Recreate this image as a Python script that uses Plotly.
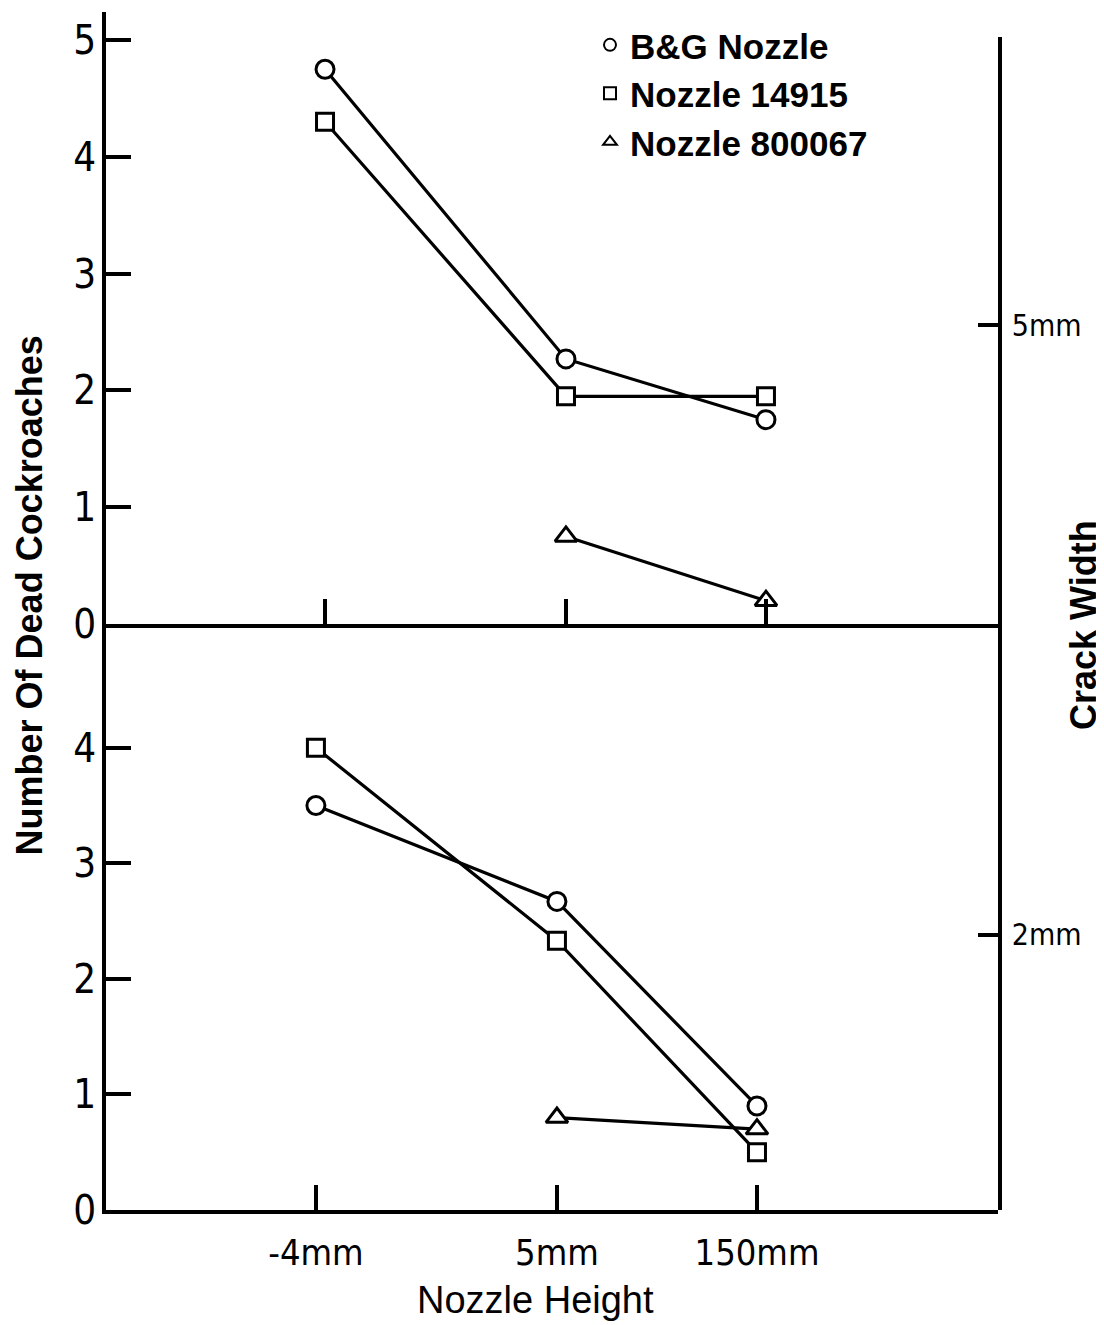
import plotly.graph_objects as go

# ---------------- data ----------------
nozzle_heights = ["-4mm", "5mm", "150mm"]
series_names = ["B&G Nozzle", "Nozzle 14915", "Nozzle 800067"]

# upper panel (crack width 5 mm)
top_bg = [4.75, 2.27, 1.75]
top_14915 = [4.3, 1.95, 1.95]
top_800067 = [None, 0.75, 0.2]

# lower panel (crack width 2 mm)
bottom_bg = [3.5, 2.67, 0.9]
bottom_14915 = [4.0, 2.33, 0.5]
bottom_800067 = [None, 0.8, 0.7]

top_y_ticks = [0, 1, 2, 3, 4, 5]
bottom_y_ticks = [0, 1, 2, 3, 4]
crack_widths = ["5mm", "2mm"]

# ---------------- layout helpers ----------------
category_positions = [0.0, 1.0, 1.83]   # uneven spacing of the hand-drawn axis
crack_tick_positions = [0.7545, 0.2345]  # where the crack-width ticks sit on the right axis

symbols = ["circle", "square", "triangle-up"]
sizes = [18, 17, 19]

TICK_FONT = "DejaVu Sans Condensed, Liberation Sans Narrow, Liberation Sans, sans-serif"
TEXT_FONT = "Liberation Sans, Arial, sans-serif"
LW = 3.5

fig = go.Figure()

def add_series(values, sym, size, name, xa, ya):
    fig.add_trace(go.Scatter(
        x=category_positions, y=values, mode="lines+markers", name=name,
        xaxis=xa, yaxis=ya, showlegend=False,
        line=dict(color="black", width=3.2),
        marker=dict(symbol=sym, size=size, color="white",
                    line=dict(color="black", width=3)),
    ))

for vals, sym, size, name in zip([bottom_bg, bottom_14915, bottom_800067], symbols, sizes, series_names):
    add_series(vals, sym, size, name, "x", "y")
for vals, sym, size, name in zip([top_bg, top_14915, top_800067], symbols, sizes, series_names):
    add_series(vals, sym, size, name, "x2", "y2")

# legend entries (symbols only)
for name, sym in zip(series_names, symbols):
    fig.add_trace(go.Scatter(
        x=[None], y=[None], mode="markers", name=name, xaxis="x2", yaxis="y2",
        marker=dict(symbol=sym, size=14, color="white", line=dict(color="black", width=3)),
        showlegend=True,
    ))

# carrier for right-hand crack width axis
fig.add_trace(go.Scatter(x=[None], y=[None], xaxis="x", yaxis="y3",
                         showlegend=False, hoverinfo="skip", mode="markers"))

common_axis = dict(showline=True, linecolor="black", linewidth=LW, showgrid=False,
                   zeroline=False, ticks="inside", tickcolor="black", tickwidth=LW,
                   ticklen=25)

fig.update_layout(
    width=1096, height=1317, autosize=False,
    margin=dict(l=98, r=106, t=4, b=115),
    paper_bgcolor="white", plot_bgcolor="rgba(0,0,0,0)",
    xaxis=dict(domain=[0, 1], range=[-0.871, 2.830], anchor="y",
               tickmode="array", tickvals=category_positions, ticktext=nozzle_heights,
               tickfont=dict(family=TICK_FONT, size=36, color="black"),
               ticklabelstandoff=8, **common_axis),
    xaxis2=dict(domain=[0, 1], range=[-0.909, 2.793], anchor="y2",
                tickmode="array", tickvals=category_positions, showticklabels=False,
                **common_axis),
    yaxis=dict(domain=[0, 0.4891], range=[0, 5.07], anchor="x",
               tickmode="array", tickvals=bottom_y_ticks,
               tickfont=dict(family=TICK_FONT, size=40, color="black"),
               ticklabelstandoff=-2, **common_axis),
    yaxis2=dict(domain=[0.4891, 1], range=[0, 5.24], anchor="x2",
                tickmode="array", tickvals=top_y_ticks,
                tickfont=dict(family=TICK_FONT, size=40, color="black"),
                ticklabelstandoff=-2, **common_axis),
    yaxis3=dict(domain=[0, 0.979], range=[0, 1], anchor="x", side="right",
                tickmode="array", tickvals=crack_tick_positions, ticktext=crack_widths,
                tickfont=dict(family=TICK_FONT, size=30, color="black"),
                showline=True, linecolor="black", linewidth=LW, showgrid=False,
                zeroline=False, ticks="inside", tickcolor="black", tickwidth=LW,
                ticklen=20, ticklabelstandoff=4),
    legend=dict(x=0.5426, y=0.997, xanchor="left", yanchor="top",
                bgcolor="rgba(0,0,0,0)",
                font=dict(family=TEXT_FONT, size=35, color="black", weight="bold"),
                itemsizing="constant"),
    annotations=[
        dict(text="Number Of Dead Cockroaches", xref="paper", yref="paper",
             x=-0.0858, y=0.5134, textangle=-90, showarrow=False,
             xanchor="center", yanchor="middle",
             font=dict(family=TEXT_FONT, size=36, color="black", weight="bold")),
        dict(text="Crack Width", xref="paper", yref="paper",
             x=1.0953, y=0.4883, textangle=-90, showarrow=False,
             xanchor="center", yanchor="middle",
             font=dict(family=TEXT_FONT, size=36, color="black", weight="bold")),
        dict(text="Nozzle Height", xref="paper", yref="paper",
             x=0.481, y=-0.0751, showarrow=False,
             xanchor="center", yanchor="middle",
             font=dict(family=TEXT_FONT, size=38, color="black")),
    ],
)

fig.write_html("out.html")
